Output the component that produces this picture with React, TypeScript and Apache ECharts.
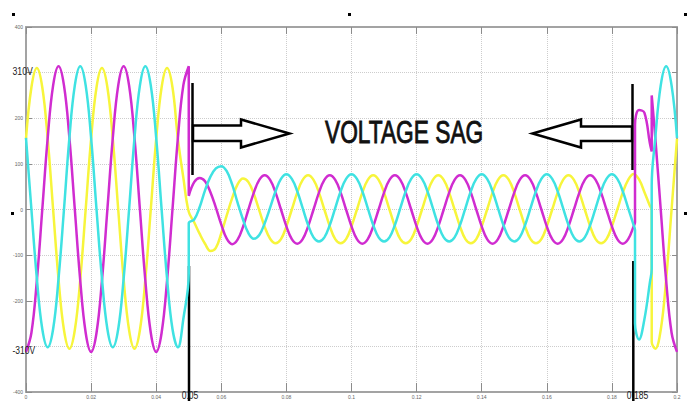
import React, { useEffect, useRef } from "react";
import * as echarts from "echarts";

// Sample spacing: 1/600 s (30 degrees of a 50 Hz cycle)
const SAMPLE_STEP = 1 / 600;

// Tick values of the axes
const X_MIN = 0;
const X_MAX = 0.2;
const X_STEP = 0.02;
const Y_MIN = -400;
const Y_MAX = 400;
const Y_STEP = 100;

// Phase voltages (V), one sample every SAMPLE_STEP from t = 0
const yellowV = [
  155, 268, 310, 268, 155, 0, -153, -264, -305, -264, -153, 0,
  155, 268, 310, 268, 155, 0, -153, -264, -305, -264, -153, 0,
  155, 268, 310, 268, 155, 70,
  -5, -28, -53, -75, -91, -84, -52, -13, 25, 55, 68, 60, 34, -2, -38, -64, -74, -65,
  -37, 0, 37, 65, 75, 65, 37, 0, -37, -65, -74, -65,
  -37, 0, 37, 65, 75, 65, 37, 0, -37, -65, -74, -65,
  -37, 0, 37, 65, 75, 65, 37, 0, -37, -65, -74, -65,
  -37, 0, 37, 65, 75, 65, 37, 0, -37, -65, -74, -65,
  -37, 0, 37, 65, 75, 65, 37, 0, -37, -65, -74, -65,
  -37, 0, 37, 65, 78,
  66, 38, 8,
  -305, -264, -153, 0, 155,
];

const magentaV = [
  -312, -270, -156, 0, 157, 272, 314, 272, 157, 0, -156, -270,
  -312, -270, -156, 0, 157, 272, 314, 272, 157, 0, -156, -270,
  -312, -270, -156, 0, 157, 272,
  30, 60, 69, 62, 38, 4, -33, -64, -76, -66, -38, 0, 37, 65,
  75, 65, 37, 0,
  -37, -65, -75, -65, -37, 0, 37, 65, 75, 65, 37, 0,
  -37, -65, -75, -65, -37, 0, 37, 65, 75, 65, 37, 0,
  -37, -65, -75, -65, -37, 0, 37, 65, 75, 65, 37, 0,
  -37, -65, -75, -65, -37, 0, 37, 65, 75, 65, 37, 0,
  -37, -65, -75, -65, -37, 0, 37, 65, 75, 65, 37, 0,
  -37, -65, -75, -65, -37,
  218, 212, 145,
  157, 0, -156, -270, -312,
];

const cyanV = [
  157, 0, -151, -262, -302, -262, -151, 0, 157, 272, 314, 272,
  157, 0, -151, -262, -302, -262, -151, 0, 157, 272, 314, 272,
  157, 0, -151, -262, -302, -240,
  -30, -22, 5, 42, 72, 90, 95, 84, 55, 15, -22, -52, -64, -56, -30, 4, 40, 67,
  77, 67, 40, 3, -34, -61, -70, -61, -34, 3, 40, 67,
  77, 67, 40, 3, -34, -61, -70, -61, -34, 3, 40, 67,
  77, 67, 40, 3, -34, -61, -70, -61, -34, 3, 40, 67,
  77, 67, 40, 3, -34, -61, -70, -61, -34, 3, 40, 67,
  77, 67, 40, 3, -34, -61, -70, -61, -34, 3, 40, 67,
  77, 67, 40, 3, -34,
  -285, -240, -160,
  157, 272, 314, 272, 157,
];

// Switching steps: [time (s), value before (V), value after (V)]
const yellowJumps = [[0.19223, 0, -290]];
const magentaJumps = [
  [0.05, 314, 30],
  [0.1871, -28, 185],
  [0.19223, 127, 250],
];
const cyanJumps = [
  [0.05, -140, -30],
  [0.1871, -45, -250],
  [0.19223, -130, 52],
];

const phaseColors = ["#f7f53b", "#d02cd0", "#3fe2e2"];

// Annotation texts
const annotationTitle = "VOLTAGE SAG";
const sagStartLabel = "0.05";
const sagEndLabel = "0.185";
const peakLabel = "310V";
const troughLabel = "-310V";

type Pt = { t: number; v: number; o: number };

function buildSeries(values: number[], jumps: number[][]) {
  const pts: Pt[] = [];
  values.forEach((v, k) => {
    const t = k * SAMPLE_STEP;
    if (jumps.some((j) => Math.abs(j[0] - t) < 1e-9)) return;
    pts.push({ t, v, o: 1 });
  });
  jumps.forEach((j) => {
    pts.push({ t: j[0], v: j[1], o: 0 });
    pts.push({ t: j[0], v: j[2], o: 0.5 });
  });
  pts.sort((a, b) => (a.t === b.t ? a.o - b.o : a.t - b.t));
  return pts.map((p) => [p.t, p.v]);
}

export default function App() {
  const ref = useRef<HTMLDivElement>(null);

  useEffect(() => {
    document.body.style.margin = "0";
    if (!ref.current) return;
    const chart = echarts.init(ref.current, undefined, { renderer: "svg" });

    const gridLine = { show: true, lineStyle: { color: "#cdcdcd", type: "dotted", width: 1 } };
    const axisLineStyle = { show: true, onZero: false, lineStyle: { color: "#a3a3a3", width: 2 } };
    const tickStyle = { color: "#8c8c8c", width: 1 };

    const seriesDefs = [
      { name: "A", values: yellowV, jumps: yellowJumps, color: phaseColors[0] },
      { name: "B", values: magentaV, jumps: magentaJumps, color: phaseColors[1] },
      { name: "C", values: cyanV, jumps: cyanJumps, color: phaseColors[2] },
    ];

    const option: any = {
      animation: false,
      backgroundColor: "#ffffff",
      grid: { left: 26, right: 14, top: 27, bottom: 9, containLabel: false },
      xAxis: [
        {
          type: "value",
          min: X_MIN,
          max: X_MAX,
          interval: X_STEP,
          position: "bottom",
          axisLine: axisLineStyle,
          axisTick: { show: true, inside: true, length: 9, lineStyle: tickStyle },
          axisLabel: {
            show: true,
            fontSize: 5,
            color: "#666",
            margin: 2,
            formatter: (v: number) => String(+v.toFixed(2)),
          },
          splitLine: gridLine,
        },
        {
          type: "value",
          min: X_MIN,
          max: X_MAX,
          interval: X_STEP,
          position: "top",
          axisLine: axisLineStyle,
          axisTick: { show: true, inside: true, length: 7, lineStyle: tickStyle },
          axisLabel: { show: false },
          splitLine: { show: false },
        },
      ],
      yAxis: [
        {
          type: "value",
          min: Y_MIN,
          max: Y_MAX,
          interval: Y_STEP,
          position: "left",
          axisLine: axisLineStyle,
          axisTick: { show: true, inside: true, length: 6, lineStyle: tickStyle },
          axisLabel: {
            show: true,
            fontSize: 5,
            color: "#666",
            margin: 3,
            formatter: (v: number) => (Math.abs(v) === 300 ? "" : String(v)),
          },
          splitLine: gridLine,
        },
        {
          type: "value",
          min: Y_MIN,
          max: Y_MAX,
          interval: Y_STEP,
          position: "right",
          axisLine: axisLineStyle,
          axisTick: { show: true, inside: true, length: 5, lineStyle: tickStyle },
          axisLabel: { show: false },
          splitLine: { show: false },
        },
      ],
      series: seriesDefs.map((s) => ({
        name: s.name,
        type: "line",
        xAxisIndex: 0,
        yAxisIndex: 0,
        showSymbol: false,
        symbol: "none",
        smooth: 0.4,
        clip: true,
        data: buildSeries(s.values, s.jumps),
        lineStyle: { color: s.color, width: 2.5 },
        itemStyle: { color: s.color },
        z: 3,
      })),
      graphic: [
        // corner marks
        ...[
          [12, 13],
          [348, 13],
          [684, 13],
          [11, 212],
          [684, 212],
        ].map((p) => ({
          type: "rect",
          shape: { x: p[0], y: p[1], width: 3, height: 3 },
          style: { fill: "#000" },
          z: 1,
        })),
        // sag start / end markers
        { type: "line", shape: { x1: 192.5, y1: 83, x2: 192.5, y2: 175 }, style: { stroke: "#000", lineWidth: 2.5 }, z: 1 },
        { type: "line", shape: { x1: 189, y1: 266, x2: 189, y2: 401 }, style: { stroke: "#000", lineWidth: 2.5 }, z: 1 },
        { type: "line", shape: { x1: 632.5, y1: 84, x2: 632.5, y2: 170 }, style: { stroke: "#000", lineWidth: 2.5 }, z: 1 },
        { type: "line", shape: { x1: 633.3, y1: 261, x2: 633.3, y2: 401 }, style: { stroke: "#000", lineWidth: 2.5 }, z: 1 },
        // arrows
        {
          type: "polygon",
          shape: {
            points: [
              [193, 125.5],
              [241, 125.5],
              [241, 119.5],
              [289.5, 133.5],
              [241, 147.5],
              [241, 141],
              [193, 141],
            ],
          },
          style: { fill: "#fff", stroke: "#000", lineWidth: 2.5, lineJoin: "miter" },
          z: 1,
        },
        {
          type: "polygon",
          shape: {
            points: [
              [632, 126.5],
              [581, 126.5],
              [581, 119.5],
              [532.5, 133.5],
              [581, 147.5],
              [581, 141],
              [632, 141],
            ],
          },
          style: { fill: "#fff", stroke: "#000", lineWidth: 2.5, lineJoin: "miter" },
          z: 1,
        },
        {
          type: "text",
          x: 325,
          y: 132,
          scaleX: 0.71,
          style: {
            text: annotationTitle,
            fontSize: 32,
            fontFamily: "Liberation Sans",
            fill: "#111",
            stroke: "#111",
            lineWidth: 0.9,
            align: "left",
            verticalAlign: "middle",
            textAlign: "left",
            textVerticalAlign: "middle",
          },
          z: 4,
        },
        {
          type: "text",
          x: 12.5,
          y: 71,
          scaleX: 0.76,
          style: {
            text: peakLabel,
            fontSize: 11.5,
            fontFamily: "Liberation Sans",
            fill: "#222",
            align: "left",
            verticalAlign: "middle",
            textAlign: "left",
            textVerticalAlign: "middle",
          },
          z: 4,
        },
        {
          type: "text",
          x: 12.5,
          y: 350,
          scaleX: 0.74,
          style: {
            text: troughLabel,
            fontSize: 11.5,
            fontFamily: "Liberation Sans",
            fill: "#222",
            align: "left",
            verticalAlign: "middle",
            textAlign: "left",
            textVerticalAlign: "middle",
          },
          z: 4,
        },
        {
          type: "text",
          x: 190,
          y: 401,
          scaleX: 0.78,
          style: {
            text: sagStartLabel,
            fontSize: 11,
            fontFamily: "Liberation Sans",
            fill: "#222",
            align: "center",
            verticalAlign: "bottom",
            textAlign: "center",
            textVerticalAlign: "bottom",
          },
          z: 4,
        },
        {
          type: "text",
          x: 637.5,
          y: 401,
          scaleX: 0.78,
          style: {
            text: sagEndLabel,
            fontSize: 11,
            fontFamily: "Liberation Sans",
            fill: "#222",
            align: "center",
            verticalAlign: "bottom",
            textAlign: "center",
            textVerticalAlign: "bottom",
          },
          z: 4,
        },
      ],
    };

    chart.setOption(option);
    return () => {
      chart.dispose();
    };
  }, []);

  return (
    <div
      ref={ref}
      style={{ position: "absolute", left: 0, top: 0, width: 691, height: 401, background: "#fff" }}
    />
  );
}
